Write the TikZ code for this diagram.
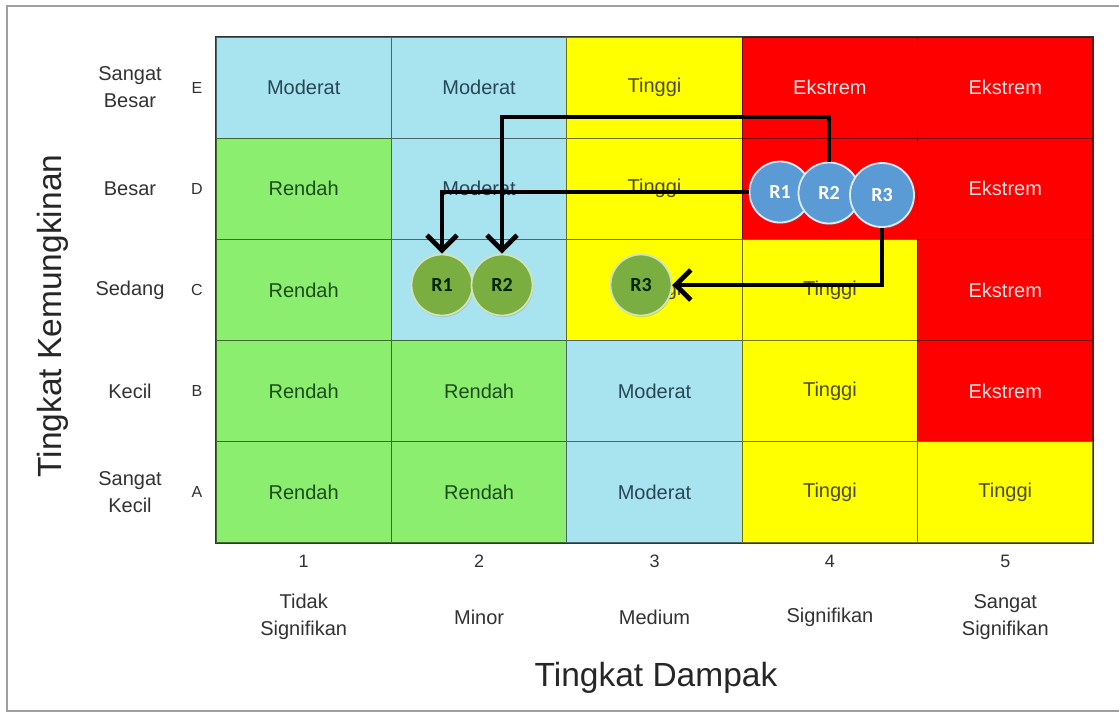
\documentclass[tikz,border=0pt]{standalone}
\usepackage{fontspec}
\setmainfont{Liberation Sans}
\newfontfamily\calib{Carlito}
\usetikzlibrary{arrows.meta,shadows}
\definecolor{cB}{RGB}{168,228,240}
\definecolor{cG}{RGB}{140,238,110}
\definecolor{cY}{RGB}{255,255,0}
\definecolor{cR}{RGB}{255,0,0}
\definecolor{tB}{RGB}{40,70,85}
\definecolor{tG}{RGB}{30,75,30}
\definecolor{tY}{RGB}{75,75,20}
\definecolor{tR}{RGB}{255,228,228}
\definecolor{blueC}{RGB}{91,155,213}
\definecolor{greenC}{RGB}{122,174,64}
\definecolor{lab}{RGB}{50,50,50}
\begin{document}
\begin{tikzpicture}[x=1pt,y=-1pt,
  cell/.style={rectangle, minimum width=175.4pt, minimum height=101.2pt, inner sep=0pt,
    line width=1.1pt, font=\fontsize{20}{22}\selectfont},
  rowlab/.style={align=center, text=lab, font=\fontsize{20}{27}\selectfont},
  letlab/.style={text=lab, font=\fontsize{16}{18}\selectfont},
  numlab/.style={text=lab, font=\fontsize{18}{20}\selectfont},
  collab/.style={align=center, text=lab, font=\fontsize{20}{27}\selectfont},
  axlab/.style={text=black!85, font=\fontsize{33.5}{35}\selectfont},
  circ/.style={circle, minimum size=61pt, inner sep=0pt, line width=1.8pt,
    font=\calib\bfseries\fontsize{20}{20}\selectfont,
    drop shadow={shadow xshift=0.8pt, shadow yshift=-1.6pt, opacity=0.35}},
  bcirc/.style={circ, fill=blueC, draw=white!80!blueC, text=white},
  gcirc/.style={circ, fill=greenC, draw=white!65!greenC, text=black!85!green},
  arr/.style={line width=4.8pt, black, line join=miter,
    -{Straight Barb[length=15pt, width=30pt, line width=4.8pt]}}
]
\useasboundingbox (0,0) rectangle (1119,713);
\fill[white] (0,0) rectangle (1119,713);
% frame
\draw[gray!75, line width=2.6pt] (1125,6) -- (7,6) -- (7,711) -- (1125,711);

% grid cells: column / row (1 = top, E) / type / text
\foreach \c/\r/\k/\t in {
  1/1/B/Moderat, 2/1/B/Moderat, 3/1/Y/Tinggi, 4/1/R/Ekstrem, 5/1/R/Ekstrem,
  1/2/G/Rendah, 2/2/B/Moderat, 3/2/Y/Tinggi, 4/2/R/{}, 5/2/R/Ekstrem,
  1/3/G/Rendah, 2/3/B/{}, 3/3/Y/Tinggi, 4/3/Y/Tinggi, 5/3/R/Ekstrem,
  1/4/G/Rendah, 2/4/G/Rendah, 3/4/B/Moderat, 4/4/Y/Tinggi, 5/4/R/Ekstrem,
  1/5/G/Rendah, 2/5/G/Rendah, 3/5/B/Moderat, 4/5/Y/Tinggi, 5/5/Y/Tinggi}{
  \node[cell, fill=c\k, draw=c\k!45!black, text=t\k] (cell-\c-\r)
    at ({216+175.4*(\c-0.5)},{37+101.2*(\r-0.5)}) {\t};
}
\draw[black!80, line width=1.8pt] (cell-1-1.north west) rectangle (cell-5-5.south east);

% row labels
\foreach \r/\l/\t in {1/E/{Sangat\\Besar}, 2/D/Besar, 3/C/Sedang, 4/B/Kecil, 5/A/{Sangat\\Kecil}}{
  \node[rowlab] (rl-\r) at (130,{37+101.2*(\r-0.5)}) {\t};
  \node[letlab] (rletter-\r) at (197,{37+101.2*(\r-0.5)}) {\l};
}
% column labels
\foreach \c/\t in {1/{Tidak\\Signifikan}, 2/Minor, 3/Medium, 4/Signifikan, 5/{Sangat\\Signifikan}}{
  \node[numlab] (cn-\c) at ({216+175.4*(\c-0.5)},561) {\c};
  \node[collab] (cl-\c) at ({216+175.4*(\c-0.5)},617) {\t};
}
% axis titles
\node[axlab, rotate=90] (ylab) at (53,316) {Tingkat Kemungkinan};
\node[axlab] (xlab) at (656,678) {Tingkat Dampak};

% risk circles
\node[gcirc] (g1) at (442,285) {R1};
\node[gcirc] (g2) at (502,285) {R2};
\node[gcirc] (g3) at (641,285) {R3};
\node[bcirc] (b1) at (780,192) {R1};
\node[bcirc] (b2) at (829,193) {R2};
\node[bcirc, minimum size=64pt] (b3) at (882,195) {R3};

% arrows
\draw[arr] (b1.west) -| (g1.north);
\draw[arr] (b2.north) -- (b2.north |- 0,117) -| (g2.north);
\draw[arr] (b3.south) |- (g3.east);
\end{tikzpicture}
\end{document}
